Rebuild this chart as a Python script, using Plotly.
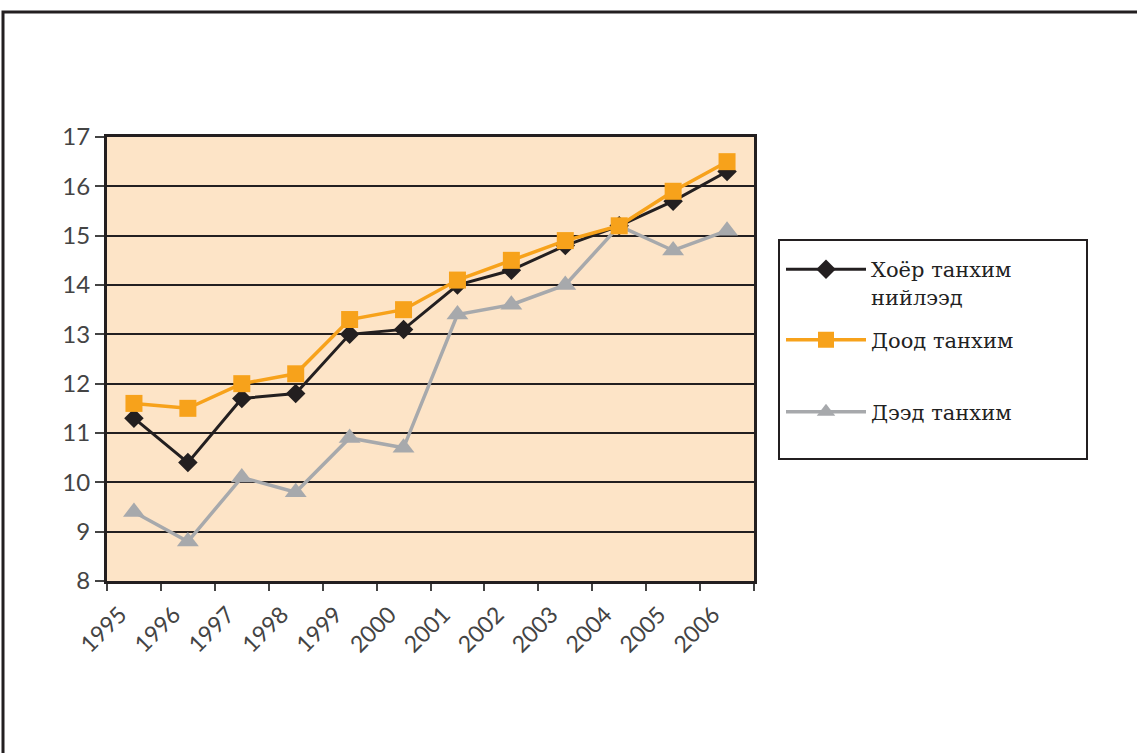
import plotly.graph_objects as go

years = ["1995", "1996", "1997", "1998", "1999", "2000", "2001", "2002", "2003", "2004", "2005", "2006"]
both_houses = [11.3, 10.4, 11.7, 11.8, 13.0, 13.1, 14.0, 14.3, 14.8, 15.2, 15.7, 16.3]
lower_house = [11.6, 11.5, 12.0, 12.2, 13.3, 13.5, 14.1, 14.5, 14.9, 15.2, 15.9, 16.5]
upper_house = [9.4, 8.8, 10.1, 9.8, 10.9, 10.7, 13.4, 13.6, 14.0, 15.2, 14.7, 15.1]
names = ["Хоёр танхим<br>нийлээд", "Доод танхим", "Дээд танхим"]

W, H = 1137, 753
L, R, T, B = 107, 754, 137, 581
pw, ph = R - L, B - T

def px(x):
    return (x - L) / pw

def py(y):
    return (B - y) / ph

fig = go.Figure()
fig.add_trace(go.Scatter(
    x=years, y=upper_house, name=names[2], mode="lines+markers",
    line=dict(color="#A7A9AC", width=3.5),
    marker=dict(symbol="triangle-up", size=19, color="#A7A9AC"),
    legend="legend3"))
fig.add_trace(go.Scatter(
    x=years, y=both_houses, name=names[0], mode="lines+markers",
    line=dict(color="#231F20", width=3),
    marker=dict(symbol="diamond", size=15, color="#231F20"),
    legend="legend"))
fig.add_trace(go.Scatter(
    x=years, y=lower_house, name=names[1], mode="lines+markers",
    line=dict(color="#F7A21B", width=3.5),
    marker=dict(symbol="square", size=17, color="#F7A21B"),
    legend="legend2"))

leg_common = dict(bgcolor="rgba(0,0,0,0)", borderwidth=0, itemwidth=80,
                  font=dict(family="DejaVu Serif", size=21, color="#222"),
                  xanchor="left", x=px(781), valign="top")
fig.update_layout(
    width=W, height=H,
    margin=dict(l=L, r=W - R, t=T, b=H - B),
    paper_bgcolor="white",
    plot_bgcolor="#FDE4C7",
    showlegend=True,
    legend=dict(**leg_common, y=py(249), yanchor="top"),
    legend2=dict(**leg_common, y=py(340), yanchor="middle"),
    legend3=dict(**leg_common, y=py(412), yanchor="middle"),
    xaxis=dict(
        type="category", range=[-0.5, 11.5], tickson="boundaries",
        ticks="outside", ticklen=7, tickwidth=1.5, tickcolor="#444",
        showgrid=False, showline=True, linewidth=3, linecolor="#231F20", mirror=True,
        tickangle=-45, ticklabelshift=-14, ticklabelstandoff=8,
        tickfont=dict(family="Lato", size=23, color="#444"),
    ),
    yaxis=dict(
        range=[8, 17], dtick=1, tick0=8,
        ticks="outside", ticklen=9, tickwidth=1.5, tickcolor="#444",
        showgrid=True, gridcolor="#231F20", gridwidth=1.5,
        showline=True, linewidth=3, linecolor="#231F20", mirror=True,
        tickfont=dict(family="Lato", size=24, color="#444"),
        zeroline=False,
    ),
    shapes=[
        dict(type="rect", xref="paper", yref="paper",
             x0=px(779), x1=px(1087), y0=py(459), y1=py(240),
             line=dict(color="#231F20", width=2), fillcolor="white", layer="below"),
        dict(type="rect", xref="paper", yref="paper",
             x0=px(3), x1=px(1200), y0=py(800), y1=py(12),
             line=dict(color="#231F20", width=3), fillcolor="rgba(0,0,0,0)"),
    ],
)

fig.write_html("out.html")
